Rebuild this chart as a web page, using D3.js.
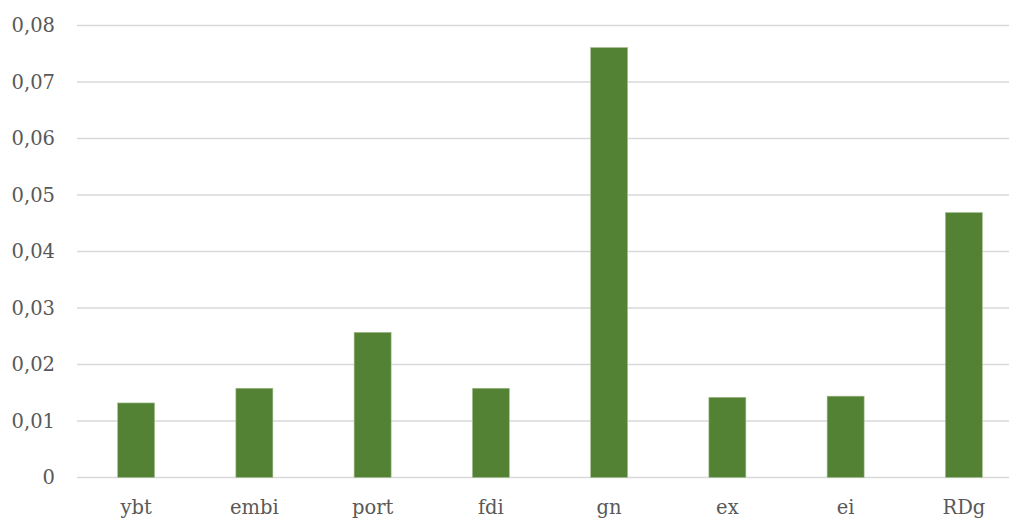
<!DOCTYPE html>
<html>
<head>
<meta charset="utf-8">
<script src="https://cdn.jsdelivr.net/npm/d3@7"></script>
<style>
  html, body { margin: 0; padding: 0; background: #fff; }
  svg { display: block; }
  text { font-family: "DejaVu Serif", "Liberation Serif", serif; fill: #595959; }
</style>
</head>
<body>
<svg id="chart" width="1009" height="521"></svg>
<script>
// Categories and their values
const categories = ["ybt", "embi", "port", "fdi", "gn", "ex", "ei", "RDg"];
const values = [0.0132, 0.0158, 0.0257, 0.0158, 0.0761, 0.0142, 0.0144, 0.0469];
const yTicks = [0, 0.01, 0.02, 0.03, 0.04, 0.05, 0.06, 0.07, 0.08];

const svg = d3.select("#chart");
const plot = { left: 77, right: 1023, top: 25.5, bottom: 477.5 };

const x = d3.scaleBand()
  .domain(categories)
  .range([plot.left, plot.right])
  .paddingInner(0.687)
  .paddingOuter(0.3435);

const y = d3.scaleLinear()
  .domain([0, 0.08])
  .range([plot.bottom, plot.top]);

const fmt = v => v === 0 ? "0" : d3.format(".2f")(v).replace(".", ",");

// Horizontal gridlines
svg.append("g")
  .selectAll("line")
  .data(yTicks)
  .join("line")
  .attr("x1", plot.left)
  .attr("x2", plot.right)
  .attr("y1", d => y(d))
  .attr("y2", d => y(d))
  .attr("stroke", "#d9d9d9")
  .attr("stroke-width", 1.5);

// Y axis labels
const yAxis = d3.axisLeft(y).tickValues(yTicks).tickFormat(fmt).tickSize(0).tickPadding(0);
svg.append("g")
  .attr("transform", `translate(${plot.left - 22},0)`)
  .call(yAxis)
  .call(g => g.select(".domain").remove())
  .call(g => g.selectAll("text")
    .attr("font-size", 19.5)
    .attr("font-family", "DejaVu Serif, Liberation Serif, serif")
    .attr("fill", "#595959")
    .attr("dy", "0.32em"));

// Bars
svg.append("g")
  .selectAll("rect")
  .data(categories.map((c, i) => ({ c, v: values[i] })))
  .join("rect")
  .attr("x", d => x(d.c))
  .attr("width", x.bandwidth())
  .attr("y", d => y(d.v))
  .attr("height", d => y(0) - y(d.v))
  .attr("fill", "#548235")
  .attr("stroke", "#a9c295")
  .attr("stroke-width", 0.6);

// X axis labels
const xAxis = d3.axisBottom(x).tickSize(0).tickPadding(0);
svg.append("g")
  .attr("transform", `translate(0,${plot.bottom + 23})`)
  .call(xAxis)
  .call(g => g.select(".domain").remove())
  .call(g => g.selectAll("text")
    .attr("font-size", 19.5)
    .attr("font-family", "DejaVu Serif, Liberation Serif, serif")
    .attr("fill", "#595959")
    .attr("dy", "0.71em"));
</script>
</body>
</html>
